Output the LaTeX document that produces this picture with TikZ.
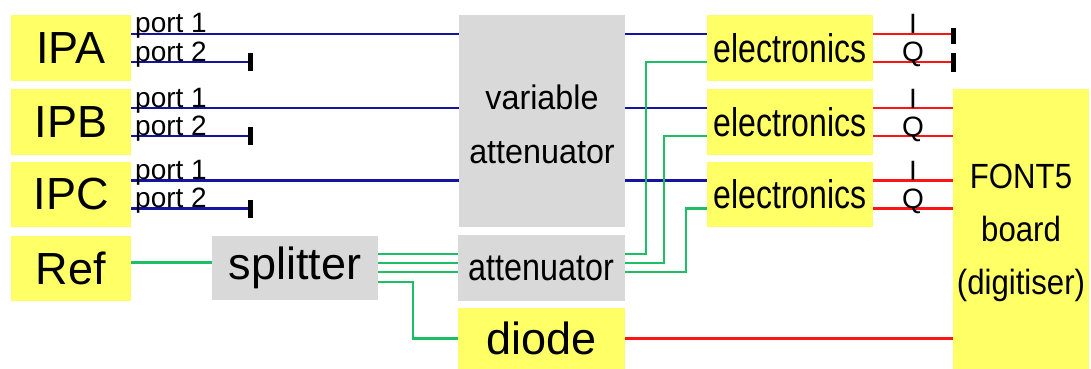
\documentclass[tikz,border=0pt]{standalone}
\usepackage{fontspec}
\setmainfont{Liberation Sans}
\newfontfamily\narrowE[FakeStretch=0.80]{Liberation Sans}
\newfontfamily\narrowT[FakeStretch=0.85]{Liberation Sans}
\newfontfamily\narrowV[FakeStretch=0.95]{Liberation Sans}
\newfontfamily\narrowF[FakeStretch=0.89]{Liberation Sans}
\usetikzlibrary{calc}
\definecolor{boxyellow}{RGB}{255,255,102}
\definecolor{boxgray}{RGB}{217,217,217}
\definecolor{sigblue}{RGB}{20,20,160}
\definecolor{sigred}{RGB}{255,20,20}
\definecolor{siggreen}{RGB}{30,190,100}
\newcommand\labbig{\fontsize{45}{45}\selectfont}
\newcommand\labport{\fontsize{28}{28}\selectfont}
\begin{document}
\begin{tikzpicture}[x=1pt,y=-1pt,
  block/.style={inner sep=0pt, outer sep=0pt, text=black, align=center},
  yblock/.style={block, fill=boxyellow},
  gblock/.style={block, fill=boxgray},
  sig/.style={line width=2.2pt, line cap=butt},
  bsig/.style={sig, draw=sigblue},
  rsig/.style={sig, draw=sigred},
  gsig/.style={sig, draw=siggreen},
  term/.style={line width=5pt, draw=black, line cap=butt},
  portlbl/.style={inner sep=0pt, text=black, font=\labport, anchor=base west},
  iqlbl/.style={inner sep=0pt, text=black, font=\labport, anchor=base}]
\useasboundingbox (0,0) rectangle (1091,369);

% pickup sources
\node[yblock, minimum width=120pt, minimum height=66pt, font=\labbig] (ipa) at (71,48) {IPA};
\node[yblock, minimum width=120pt, minimum height=66pt, font=\labbig] (ipb) at (71,122) {IPB};
\node[yblock, minimum width=120pt, minimum height=65pt, font=\labbig] (ipc) at (71,194.5) {IPC};
\node[yblock, minimum width=120pt, minimum height=65pt, font=\labbig] (ref) at (71,268.5) {Ref};

% reference distribution
\node[gblock, minimum width=166pt, minimum height=64pt, font=\labbig] (split) at (295,268) {splitter};
\node[gblock, minimum width=166pt, minimum height=212pt,
      font=\narrowV\fontsize{34}{54}\selectfont] (va) at (542,121) {\rule{0pt}{31pt}variable\\attenuator};
\node[gblock, minimum width=167pt, minimum height=66pt,
      font=\narrowT\fontsize{38}{38}\selectfont] (att) at (541.5,268) {attenuator};
\node[yblock, minimum width=167pt, minimum height=61pt, font=\labbig] (diode) at (541.5,338.5) {diode};

% processing electronics
\node[yblock, minimum width=166pt, minimum height=66pt,
      font=\narrowE\fontsize{40}{40}\selectfont] (e1) at (790,48) {electronics};
\node[yblock, minimum width=166pt, minimum height=66pt,
      font=\narrowE\fontsize{40}{40}\selectfont] (e2) at (790,122) {electronics};
\node[yblock, minimum width=166pt, minimum height=65pt,
      font=\narrowE\fontsize{40}{40}\selectfont] (e3) at (790,194.5) {electronics};

% digitiser
\node[yblock, minimum width=136pt, minimum height=280pt,
      font=\narrowF\fontsize{35}{53}\selectfont] (font) at (1021,229) {\rule{0pt}{32pt}FONT5\\board\\(digitiser)};

% stub position for unused ports
\coordinate (stub) at (250,0);

% port coordinates
\foreach \n in {a,b,c}{
  \coordinate (p\n1) at ([yshift=14pt]ip\n.east);
  \coordinate (p\n2) at ([yshift=-14pt]ip\n.east);
}
\foreach \n in {1,2,3}{
  \coordinate (r\n1) at ([yshift=14pt]e\n.east);
  \coordinate (r\n2) at ([yshift=-14pt]e\n.east);
  \coordinate (g\n) at ([yshift=-14pt]e\n.west);
}

% port 1: through the variable attenuator to the electronics
\foreach \n/\m in {a/1,b/2,c/3}{
  \draw[bsig] (p\n1) -- (p\n1 -| va.west);
  \draw[bsig] (p\n1 -| va.east) -- (p\n1 -| e\m.west);
  \node[portlbl] at ([xshift=4pt,yshift=1pt]p\n1) {port 1};
  % port 2: terminated
  \draw[bsig] (p\n2) -- (p\n2 -| stub);
  \draw[term] ([yshift=9pt]p\n2 -| stub) -- ([yshift=-9pt]p\n2 -| stub);
  \node[portlbl] at ([xshift=4pt,yshift=1pt]p\n2) {port 2};
}

% reference path
\draw[gsig] ([yshift=6pt]ref.east) -- ([yshift=6pt]ref.east -| split.west);
\draw[gsig] ([yshift=14pt]split.east) -- ([yshift=14pt]att.west);
\draw[gsig] ([yshift=5pt]split.east) -- ([yshift=5pt]att.west);
\draw[gsig] ([yshift=-4pt]split.east) -- ([yshift=-4pt]att.west);
\draw[gsig] ([yshift=-14pt]split.east) -| ([xshift=-45pt]diode.west) -- (diode.west);
\draw[gsig] ([yshift=14pt]att.east) -| ([xshift=-61pt]g1) -- (g1);
\draw[gsig] ([yshift=5pt]att.east) -| ([xshift=-43pt]g2) -- (g2);
\draw[gsig] ([yshift=-4pt]att.east) -| ([xshift=-21pt]g3) -- (g3);

% I/Q outputs
\draw[rsig] (r11) -- (r11 -| font.west);
\draw[rsig] (r12) -- (r12 -| font.west);
\draw[term] ([yshift=6pt]r11 -| font.west) -- ([yshift=-10pt]r11 -| font.west);
\draw[term] ([yshift=9pt]r12 -| font.west) -- ([yshift=-10pt]r12 -| font.west);
\foreach \m in {2,3}{
  \draw[rsig] (r\m1) -- (r\m1 -| font.west);
  \draw[rsig] (r\m2) -- (r\m2 -| font.west);
}
\foreach \m in {1,2,3}{
  \node[iqlbl] at ($(r\m1)!0.5!(r\m1 -| font.west)$) {I};
  \node[iqlbl] at ($(r\m2)!0.5!(r\m2 -| font.west)$) {Q};
}

% diode level to the digitiser
\draw[rsig] (diode.east) -- (diode.east -| font.west);
\end{tikzpicture}
\end{document}
